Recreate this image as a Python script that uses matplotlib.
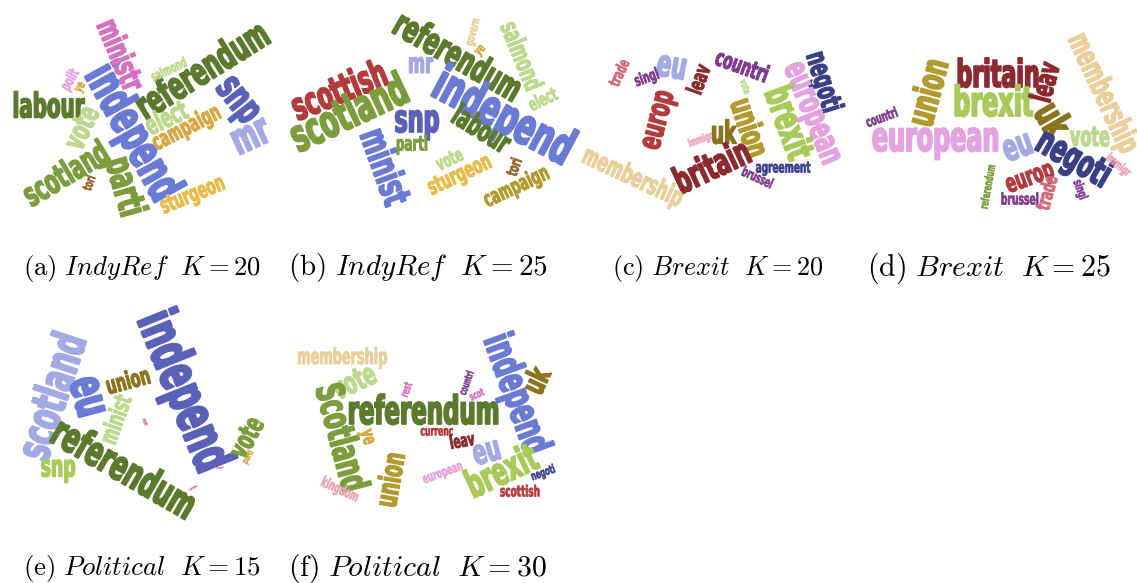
import matplotlib
matplotlib.use("Agg")
import matplotlib.pyplot as plt
from matplotlib.patheffects import AbstractPathEffect
from matplotlib.transforms import Affine2D

plt.rcParams['mathtext.fontset'] = 'cm'

# ---------------- data: words of each topic cloud ----------------
words_a = ["referendum", "independ", "labour", "snp", "mr", "elect", "campaign", "vote",
           "scotland", "parti", "sturgeon", "salmond", "polit", "ye", "tori", "ministr"]
words_b = ["referendum", "independ", "scottish", "scotland", "snp", "mr", "minist", "parti",
           "labour", "vote", "sturgeon", "campaign", "tori", "salmond", "elect", "govern", "ye"]
words_c = ["eu", "europ", "singl", "trade", "leav", "countri", "negoti", "european", "brexit",
           "union", "vote", "uk", "immigr", "britain", "membership", "agreement", "brussel"]
words_d = ["european", "union", "britain", "brexit", "leav", "membership", "uk", "vote", "eu",
           "negoti", "countri", "immigr", "europ", "trade", "singl", "brussel", "referendum"]
words_e = ["independ", "scotland", "eu", "union", "minist", "referendum", "snp", "vote", "parti",
           "rest", "kingdom", "currenc"]
words_f = ["membership", "vote", "Scotland", "referendum", "ye", "union", "kingdom", "rest",
           "currenc", "leav", "european", "countri", "scot", "independ", "uk", "eu", "brexit",
           "negoti", "scottish"]

captions = [r"$\mathrm{(a)}\ \mathit{IndyRef}\ \ K = 20$", r"$\mathrm{(b)}\ \mathit{IndyRef}\ \ K = 25$",
            r"$\mathrm{(c)}\ \mathit{Brexit}\ \ K = 20$", r"$\mathrm{(d)}\ \mathit{Brexit}\ \ K = 25$",
            r"$\mathrm{(e)}\ \mathit{Political}\ \ K = 15$", r"$\mathrm{(f)}\ \mathit{Political}\ \ K = 30$"]

# ---------------- layout: (x, y, angle, length) in pixels ----------------
layout_a = [(203, 72, 32, 150), (132, 133, -61, 148), (48, 108, 0, 72), (238, 100, -52, 48),
            (250, 137, 25, 38), (167, 120, 25, 44), (187, 128, 27, 74), (83, 128, 65, 44),
            (67, 175, 31, 94), (123, 187, -74, 60), (193, 195, 22, 68), (169, 70, 25, 38),
            (70, 80, 60, 22), (80, 87, 60, 10), (90, 183, 70, 15), (118, 55, -67, 74)]
layout_b = [(457, 58, -30, 142), (503, 118, -28, 152), (340, 92, 22, 100), (350, 115, 25, 125),
            (417, 122, 0, 45), (420, 65, 0, 25), (383, 167, -70, 78), (412, 145, 0, 32),
            (480, 130, -32, 63), (450, 160, 25, 28), (460, 175, 25, 68), (517, 187, 25, 70),
            (515, 167, 70, 18), (520, 57, -68, 72), (543, 100, 25, 30), (473, 32, 75, 28),
            (480, 50, 45, 10)]
layout_c = [(672, 67, -10, 30), (658, 120, 75, 60), (647, 78, 20, 25), (620, 73, 65, 28),
            (700, 80, 70, 30), (742, 67, -20, 55), (823, 82, -73, 62), (813, 113, -68, 108),
            (787, 123, -70, 75), (748, 128, -72, 60), (745, 87, -70, 15), (723, 135, 0, 25),
            (700, 140, 20, 25), (713, 168, 25, 80), (632, 178, -25, 108), (783, 168, 0, 55),
            (757, 178, -25, 33)]
layout_d = [(936, 140, 0, 128), (930, 93, 75, 68), (998, 77, 0, 83), (993, 105, 0, 80),
            (1047, 83, 75, 40), (1102, 93, -65, 128), (1050, 120, -60, 32), (1090, 138, 0, 40),
            (1018, 147, 20, 30), (1073, 160, -30, 80), (882, 118, 20, 33), (1118, 165, -40, 28),
            (1030, 178, 20, 50), (1048, 193, 75, 35), (1080, 190, -70, 20), (1020, 200, 0, 38),
            (988, 187, 80, 45)]
layout_e = [(182, 392, -68, 168), (55, 397, 72, 130), (88, 397, -75, 40), (128, 382, 15, 45),
            (117, 420, 70, 50), (123, 470, -30, 160), (58, 468, 0, 35), (248, 438, 62, 42),
            (248, 457, 60, 14), (145, 422, -70, 7), (220, 468, 5, 7), (193, 488, 30, 9)]
layout_f = [(342, 358, 0, 90), (355, 383, 25, 45), (340, 438, -75, 110), (424, 413, 0, 152),
            (368, 437, -75, 15), (392, 480, 80, 55), (340, 490, -25, 40), (407, 390, 70, 15),
            (437, 432, 0, 33), (462, 442, 10, 25), (443, 473, 20, 42), (467, 383, 70, 25),
            (477, 395, 25, 15), (515, 395, -70, 125), (538, 382, 65, 25), (487, 452, 15, 28),
            (502, 473, 25, 75), (543, 473, 20, 25), (520, 492, 0, 40)]

caption_pos = [(142, 268, 240), (418, 268, 262), (718, 268, 213), (989, 268, 246),
               (142, 568, 240), (417, 568, 261)]

# ---------------- colours ----------------
DKOLIVE, OLIVE, LTGREEN, YLGREEN = "#5b7a2e", "#7c9c3e", "#bcd88e", "#a9c95b"
INDIGO, BLUE, PERI, NAVY = "#5a62b8", "#6b7bd4", "#a3aae3", "#3b3f86"
MAGENTA, ORCHID, GOLD, YGOLD = "#d472c2", "#e3a3e0", "#d7a843", "#e6bc4a"
BROWN, GOLIVE, OLBROWN = "#93642a", "#b39a2e", "#8a7420"
DKRED, MAROON, PURPLE, PINKRED, PINK, BEIGE = "#b23b3d", "#8b2a30", "#7d3d8c", "#d06b7b", "#e9a4b4", "#e8cf9c"

colors_a = [DKOLIVE, BLUE, DKOLIVE, INDIGO, PERI, LTGREEN, GOLD, LTGREEN, OLIVE, OLIVE,
            YGOLD, LTGREEN, ORCHID, GOLD, BROWN, MAGENTA]
colors_b = [DKOLIVE, BLUE, DKRED, OLIVE, INDIGO, PERI, BLUE, OLIVE, DKOLIVE, LTGREEN,
            YGOLD, GOLIVE, BROWN, LTGREEN, LTGREEN, BEIGE, GOLD]
colors_c = [PERI, DKRED, PURPLE, PINKRED, MAROON, PURPLE, NAVY, ORCHID, YLGREEN, GOLIVE,
            LTGREEN, OLBROWN, PINK, MAROON, BEIGE, NAVY, PURPLE]
colors_d = [ORCHID, GOLIVE, MAROON, YLGREEN, MAROON, BEIGE, OLBROWN, LTGREEN, PERI, NAVY,
            PURPLE, PINK, DKRED, PINKRED, PURPLE, PURPLE, OLIVE]
colors_e = [INDIGO, PERI, BLUE, OLBROWN, LTGREEN, DKOLIVE, YLGREEN, OLIVE, GOLD,
            PINKRED, PINKRED, PINKRED]
colors_f = [BEIGE, LTGREEN, OLIVE, DKOLIVE, GOLD, GOLIVE, PINK, MAGENTA, DKRED, MAROON,
            ORCHID, PURPLE, MAGENTA, BLUE, OLBROWN, PERI, YLGREEN, NAVY, DKRED]

FONT = ["DejaVu Sans"]
SQUASH = 0.58  # horizontal compression giving an Impact-like condensed look


class Condense(AbstractPathEffect):
    """Compress glyphs horizontally about the text centre and thicken strokes."""

    def __init__(self, sx, lw):
        super().__init__()
        self.sx = sx
        self.lw = lw

    def draw_path(self, renderer, gc, tpath, affine, rgbFace=None):
        ext = tpath.get_extents()
        cx = 0.5 * (ext.x0 + ext.x1)
        aff = Affine2D().translate(-cx, 0).scale(self.sx, 1).translate(cx, 0) + affine
        gc0 = renderer.new_gc()
        gc0.copy_properties(gc)
        if rgbFace is not None:
            gc0.set_foreground(rgbFace)
        gc0.set_linewidth(self.lw)
        renderer.draw_path(gc0, tpath, aff, rgbFace)
        gc0.restore()


fig = plt.figure(figsize=(11.37, 5.83), dpi=100)
ax = fig.add_axes([0, 0, 1, 1])
ax.set_xlim(0, 1137)
ax.set_ylim(583, 0)
ax.axis("off")
renderer = fig.canvas.get_renderer()


def word(x, y, s, length, angle, color):
    t = ax.text(x, y, s, fontsize=10, ha="center", va="center", color=color,
                rotation_mode="anchor", family=FONT, fontweight="bold")
    w = t.get_window_extent(renderer).width
    fs = 10 * length / (w * SQUASH)
    t.set_fontsize(fs)
    t.set_rotation(angle)
    t.set_path_effects([Condense(SQUASH, 0.045 * fs)])
    return t


def caption(x, y, s, length):
    t = ax.text(x, y, s, fontsize=10, ha="center", va="center", color="black")
    w = t.get_window_extent(renderer).width
    t.set_fontsize(10 * length / w)
    return t


for words, layout, cols in [(words_a, layout_a, colors_a), (words_b, layout_b, colors_b),
                            (words_c, layout_c, colors_c), (words_d, layout_d, colors_d),
                            (words_e, layout_e, colors_e), (words_f, layout_f, colors_f)]:
    for w, (x, y, ang, L), c in zip(words, layout, cols):
        word(x, y, w, L, ang, c)

for cap, (x, y, L) in zip(captions, caption_pos):
    caption(x, y, cap, L)

fig.savefig("out.png", dpi=100)
